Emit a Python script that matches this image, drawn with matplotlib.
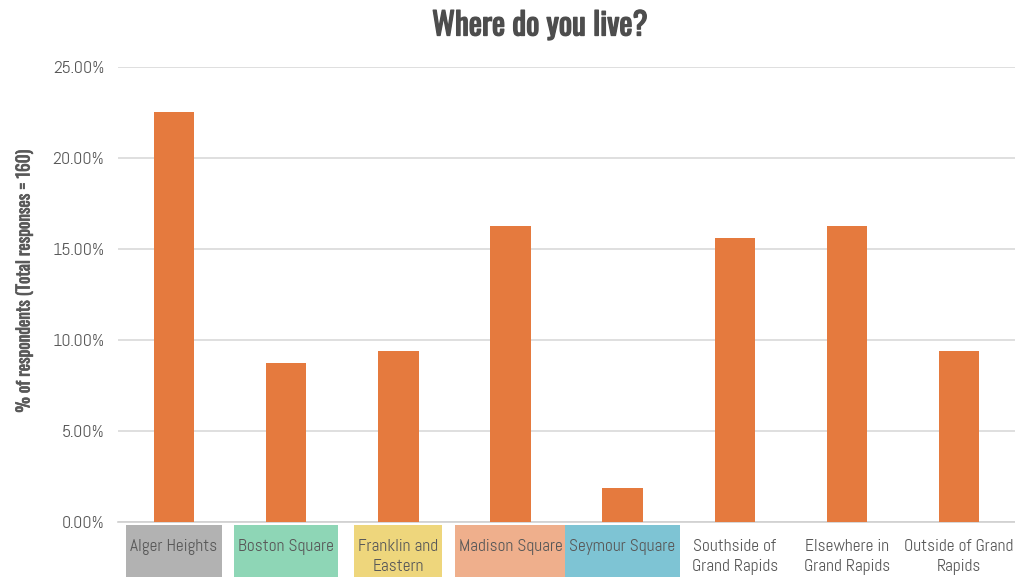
import matplotlib
matplotlib.use("Agg")
import matplotlib.pyplot as plt
from matplotlib.patches import Rectangle
from matplotlib import transforms, font_manager
from matplotlib import patheffects as pe
from matplotlib.ticker import FuncFormatter

installed = {f.name for f in font_manager.fontManager.ttflist}


def pick(*names):
    for n in names:
        if n in installed:
            return n
    return "DejaVu Sans"


body_font = pick("Abel", "Open Sans Condensed", "IBM Plex Sans Condensed")
title_font = pick("Oswald", "Fjalla One", "Pathway Gothic One", "Open Sans Condensed")
plt.rcParams['font.family'] = [body_font, 'DejaVu Sans']

categories = ["Alger Heights", "Boston Square", "Franklin and\nEastern", "Madison Square",
              "Seymour Square", "Southside of\nGrand Rapids", "Elsewhere in\nGrand Rapids",
              "Outside of Grand\nRapids"]
percent = [22.5, 8.75, 9.375, 16.25, 1.875, 15.625, 16.25, 9.375]
label_fill = ["#B2B2B2", "#8ED6B6", "#EED67C", "#EFAF8C", "#7EC4D4", None, None, None]
yticks = [0, 5, 10, 15, 20, 25]

text_grey = "#595959"
bar_orange = "#E57A3E"

fig = plt.figure(figsize=(10.15, 5.77), dpi=100)
ax = fig.add_axes([0.1163, 0.0953, 0.8837, 0.7886])

x = list(range(len(categories)))
ax.bar(x, percent, width=0.36, color=bar_orange, zorder=3)

ax.set_xlim(-0.5, len(categories) - 0.5)
ax.set_ylim(0, 25)
ax.set_yticks(yticks)
ax.yaxis.set_major_formatter(FuncFormatter(lambda v, p: f"{v:.2f}%"))
ax.tick_params(axis='y', length=0, pad=10, labelsize=13, labelcolor=text_grey)
ax.set_xticks([])
ax.grid(axis='y', color="#D9D9D9", linewidth=1.2, zorder=0)
for s in ["top", "right", "left"]:
    ax.spines[s].set_visible(False)
ax.spines["bottom"].set_color("#D0D0D0")
ax.spines["bottom"].set_linewidth(1.2)

ax.set_ylabel("% of respondents (Total responses = 160)", fontsize=12.5, color=text_grey,
              family=[title_font, 'DejaVu Sans'],
              path_effects=[pe.withStroke(linewidth=0.5, foreground=text_grey)])
ax.yaxis.set_label_coords(-0.095, 0.53)
fig.text(0.532, 0.955, "Where do you live?", ha='center', va='center', fontsize=22.5,
         color="#4D4D4D", family=[title_font, 'DejaVu Sans'],
         path_effects=[pe.withStroke(linewidth=1.0, foreground="#4D4D4D")])

# category labels on coloured tiles under the axis
base = transforms.blended_transform_factory(ax.transData, ax.transAxes)
label_tf = transforms.offset_copy(base, fig=fig, x=0, y=-17, units='dots')
texts = []
for i, (name, fill) in enumerate(zip(categories, label_fill)):
    t = ax.text(i, 0, name, transform=label_tf, ha='center', va='top', multialignment='center',
                fontsize=12.5, color=text_grey, linespacing=1.35, zorder=5, clip_on=False)
    texts.append((t, fill))

fig.canvas.draw()
renderer = fig.canvas.get_renderer()
W, H = fig.bbox.width, fig.bbox.height
axis_y = ax.transAxes.transform((0, 0))[1]
for t, fill in texts:
    if fill is None:
        continue
    bb = t.get_window_extent(renderer)
    x0 = bb.x0 - 4
    x1 = bb.x1 + 4
    top = axis_y - 3
    fig.patches.append(Rectangle((x0 / W, -0.05), (x1 - x0) / W, (top + 0.05 * H) / H,
                                 transform=fig.transFigure, facecolor=fill, edgecolor='none',
                                 zorder=-1))

fig.savefig("out.png", dpi=100, facecolor="white")
